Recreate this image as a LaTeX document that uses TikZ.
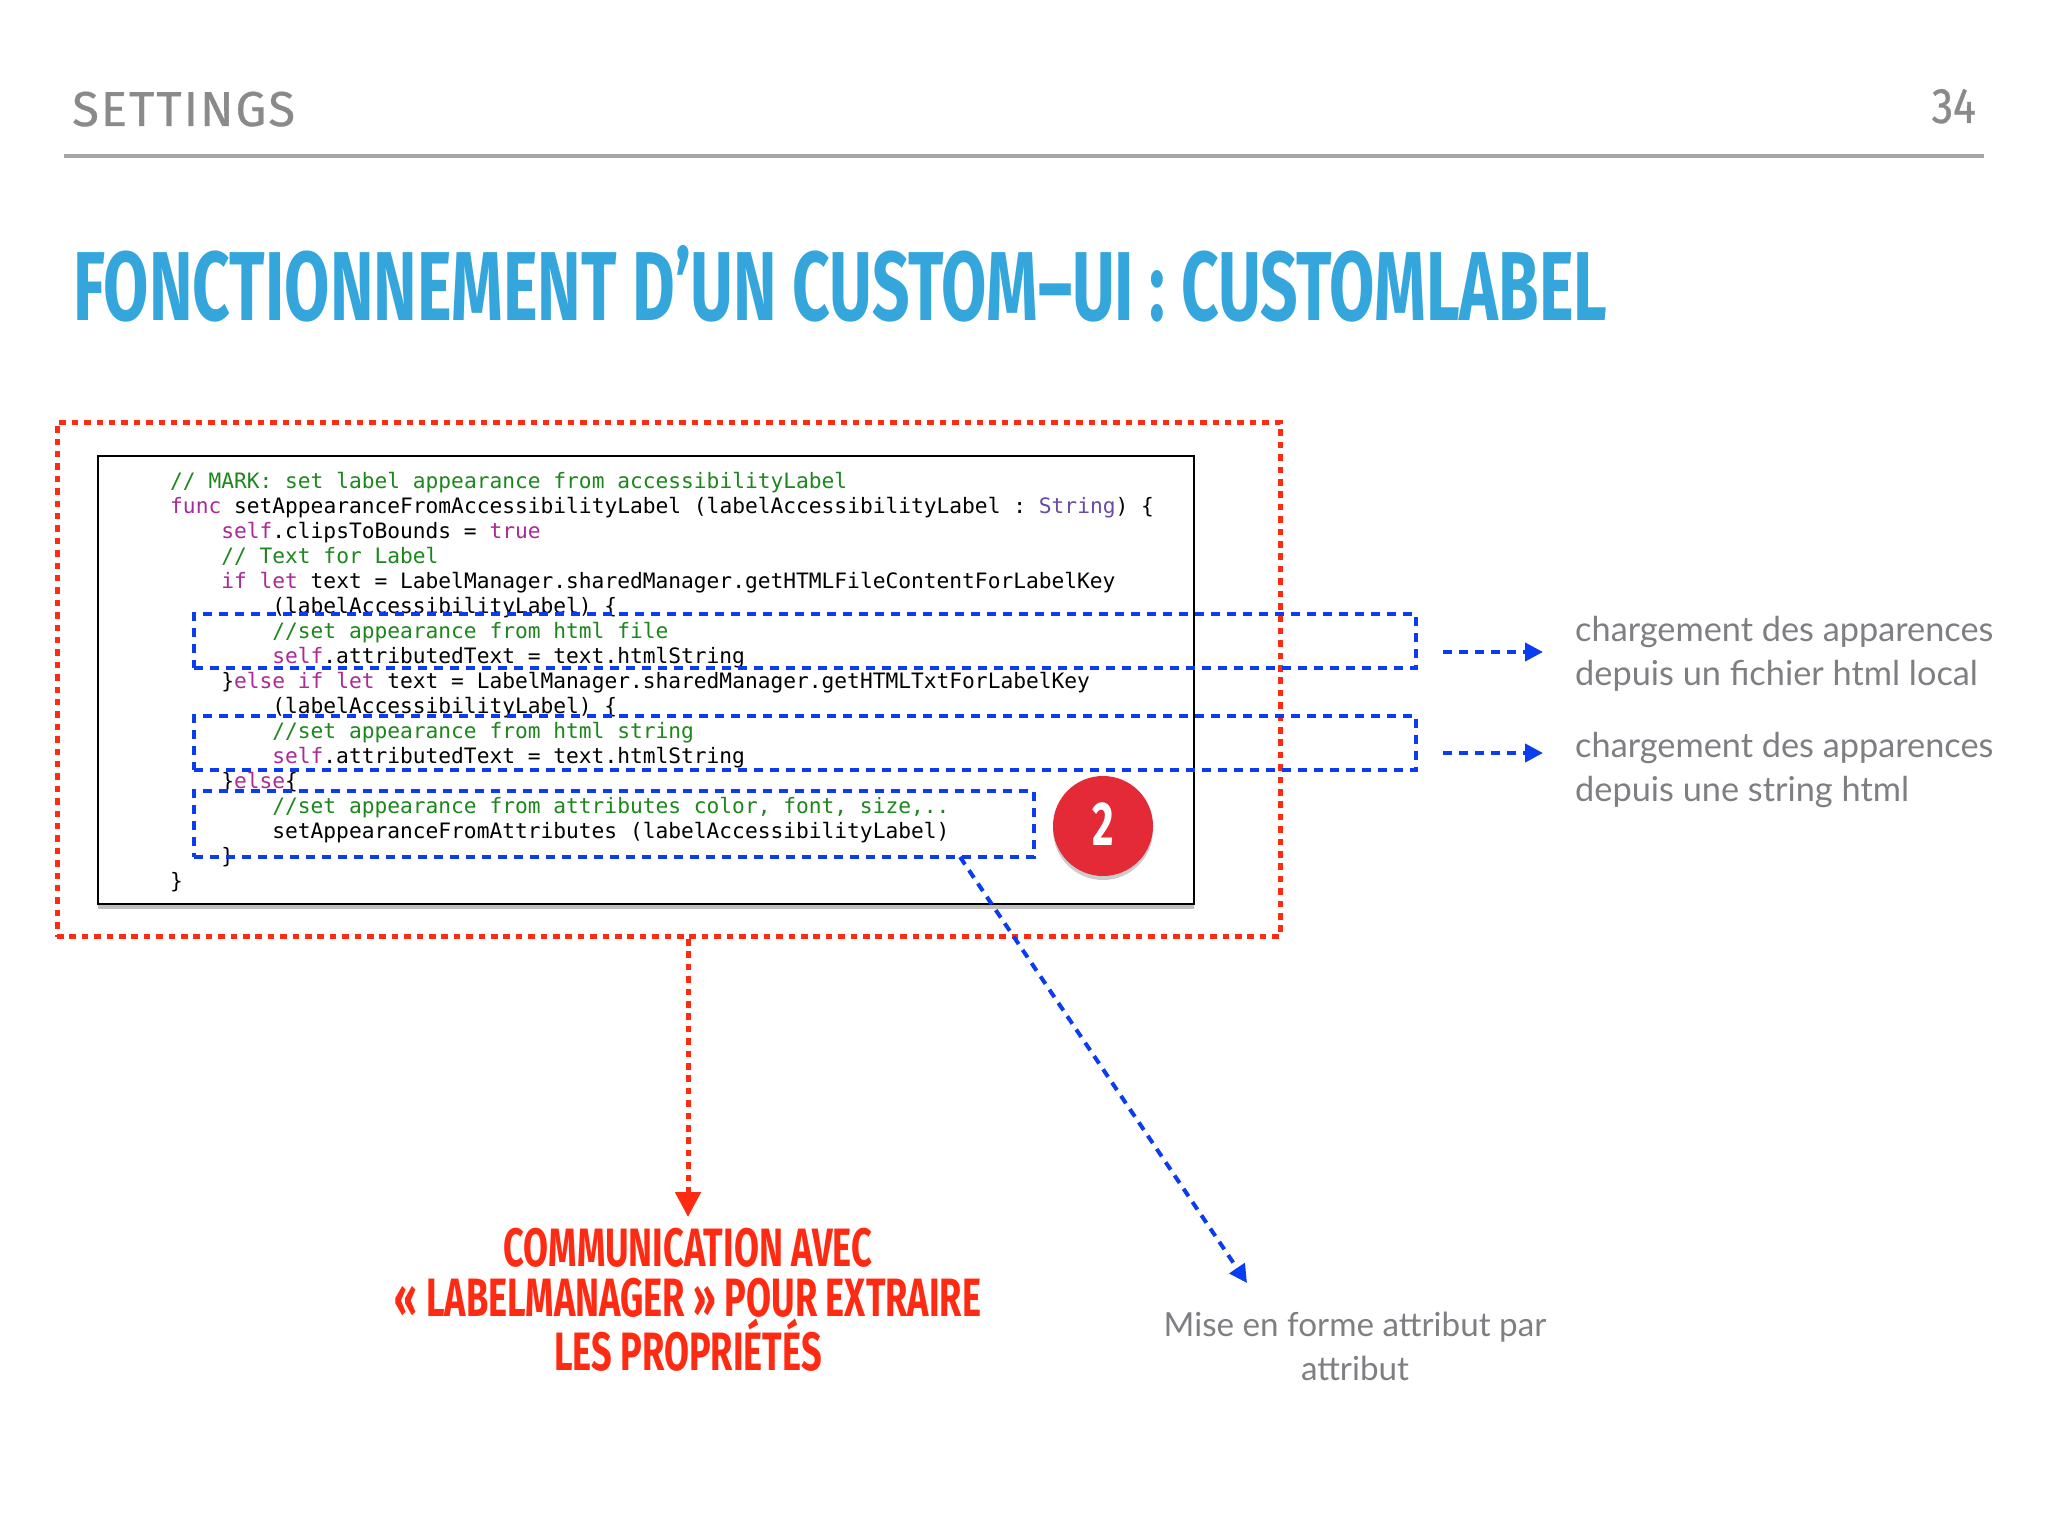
\documentclass[tikz,border=0pt]{standalone}
\usepackage{fontspec}
\usetikzlibrary{arrows.meta,shadows}
\setmainfont{Lato}
\setmonofont{DejaVu Sans Mono}
\newfontfamily\dinfont[FakeStretch=0.67]{Fira Sans}
\newfontfamily\headfont[LetterSpace=4,FakeBold=0.6]{Fira Sans}
\newfontfamily\pagefont[FakeStretch=0.86,FakeBold=0.6]{Fira Sans}
\definecolor{titleblue}{HTML}{35A6DC}
\definecolor{headgray}{HTML}{8A8A8A}
\definecolor{notegray}{HTML}{7F7F83}
\definecolor{dotred}{HTML}{FF2A12}
\definecolor{dashblue}{HTML}{0A3CF0}
\definecolor{badgered}{HTML}{E32A36}
\definecolor{cmtgreen}{HTML}{1D861D}
\definecolor{kwpink}{HTML}{AA2A96}
\definecolor{typepurple}{HTML}{6A4AA5}
\newcommand{\ind}[1]{\hspace*{\dimexpr #1\dimexpr 12.77pt\relax\relax}}
\newcommand{\cmt}[1]{\textcolor{cmtgreen}{#1}}
\newcommand{\kw}[1]{\textcolor{kwpink}{#1}}
\tikzset{
  redbox/.style={draw=dotred, line width=5pt, dash pattern=on 6.5pt off 5.9pt, inner sep=0pt},
  bluebox/.style={draw=dashblue, line width=4pt, dash pattern=on 9pt off 7pt, inner sep=0pt},
  bluearrow/.style={draw=dashblue, line width=4pt, dash pattern=on 9pt off 7pt, -{Triangle[length=18pt,width=18pt,fill=dashblue]}},
  redarrow/.style={draw=dotred, line width=5pt, dash pattern=on 6.5pt off 5.9pt, -{Triangle[length=25pt,width=25pt,fill=dotred]}},
  sidenote/.style={text=notegray, inner sep=0pt, font=\fontsize{34.3}{44}\selectfont},
}
\begin{document}
\begin{tikzpicture}[x=1pt, y=-1pt, line join=miter]
  \useasboundingbox (0,0) rectangle (2048,1536);

  % header
  \node[anchor=base west, inner sep=0pt, text=headgray, font=\headfont\fontsize{49}{49}\selectfont] (section) at (72,126) {SETTINGS};
  \node[anchor=base east, inner sep=0pt, text=headgray, font=\pagefont\fontsize{50}{50}\selectfont] (pagenum) at (1976,123) {34};
  \draw[line width=4.5pt, color=black!35] (64,156) -- (1984,156);
  \node[anchor=base west, inner sep=0pt, text=titleblue, font=\dinfont\bfseries\fontsize{98}{98}\selectfont] (title) at (73,320) {FONCTIONNEMENT D’UN CUSTOM–UI : CUSTOMLABEL};

  % code
  \node[draw=black, line width=2.5pt, fill=white, drop shadow={shadow xshift=0pt, shadow yshift=-5pt, opacity=0.5},
        minimum width=1096pt, minimum height=448pt, inner sep=0pt] (codebox) at (646,680) {};
  \node[anchor=north west, inner sep=0pt, align=left, font=\ttfamily\fontsize{21.22}{25}\selectfont] (code) at (170,472) {%
    \cmt{// MARK: set label appearance from accessibilityLabel}\\
    \kw{func} setAppearanceFromAccessibilityLabel (labelAccessibilityLabel : \textcolor{typepurple}{String}) \{\\
    \ind{4}\kw{self}.clipsToBounds = \kw{true}\\
    \ind{4}\cmt{// Text for Label}\\
    \ind{4}\kw{if let} text = LabelManager.sharedManager.getHTMLFileContentForLabelKey\\
    \ind{8}(labelAccessibilityLabel) \{\\
    \ind{8}\cmt{//set appearance from html file}\\
    \ind{8}\kw{self}.attributedText = text.htmlString\\
    \ind{4}\}\kw{else if let} text = LabelManager.sharedManager.getHTMLTxtForLabelKey\\
    \ind{8}(labelAccessibilityLabel) \{\\
    \ind{8}\cmt{//set appearance from html string}\\
    \ind{8}\kw{self}.attributedText = text.htmlString\\
    \ind{4}\}\kw{else}\{\\
    \ind{8}\cmt{//set appearance from attributes color, font, size,..}\\
    \ind{8}setAppearanceFromAttributes (labelAccessibilityLabel)\\
    \ind{4}\}\\
    \}};

  % frames
  \node[redbox, minimum width=1223pt, minimum height=514pt] (frame) at (668.5,679.5) {};
  \node[bluebox, minimum width=1222pt, minimum height=54pt] (fileblock) at (805,641) {};
  \node[bluebox, minimum width=1222pt, minimum height=54pt] (stringblock) at (805,743) {};
  \node[bluebox, minimum width=840pt, minimum height=66pt] (attrblock) at (614,824) {};

  \node[circle, fill=badgered, minimum size=100pt, inner sep=0pt, text=white,
        drop shadow={shadow xshift=0pt, shadow yshift=-4pt, opacity=0.4},
        font=\dinfont\bfseries\fontsize{62}{62}\selectfont] (badge) at (1103,826) {\raisebox{4pt}{2}};

  % notes
  \node[sidenote, anchor=north west, align=left] (filenote) at (1575,616) {chargement des apparences\\depuis un fichier html local};
  \node[sidenote, anchor=north west, align=left] (stringnote) at (1575,732) {chargement des apparences\\depuis une string html};
  \node[sidenote, anchor=north, align=center, font=\fontsize{33.2}{44}\selectfont] (attrnote) at (1355,1312) {Mise en forme attribut par\\attribut};
  \node[anchor=north, align=center, inner sep=0pt, text=dotred,
        font=\dinfont\bfseries\fontsize{54}{50}\selectfont] (managernote) at (688,1228) {COMMUNICATION AVEC\\« LABELMANAGER » POUR EXTRAIRE\\LES PROPRIÉTÉS};

  % arrows
  \coordinate (filestart) at (1443,652);
  \coordinate (filetip) at (1543,652);
  \coordinate (stringstart) at (1443,753);
  \coordinate (stringtip) at (1543,753);
  \coordinate (attrstart) at (960,857);
  \coordinate (attrtip) at (1247,1283);
  \coordinate (managertip) at (688,1217);
  \draw[bluearrow] (filestart) -- (filetip);
  \draw[bluearrow] (stringstart) -- (stringtip);
  \draw[bluearrow] (attrstart) -- (attrtip);
  \draw[redarrow] (frame.south -| managertip) -- (managertip);
\end{tikzpicture}
\end{document}
